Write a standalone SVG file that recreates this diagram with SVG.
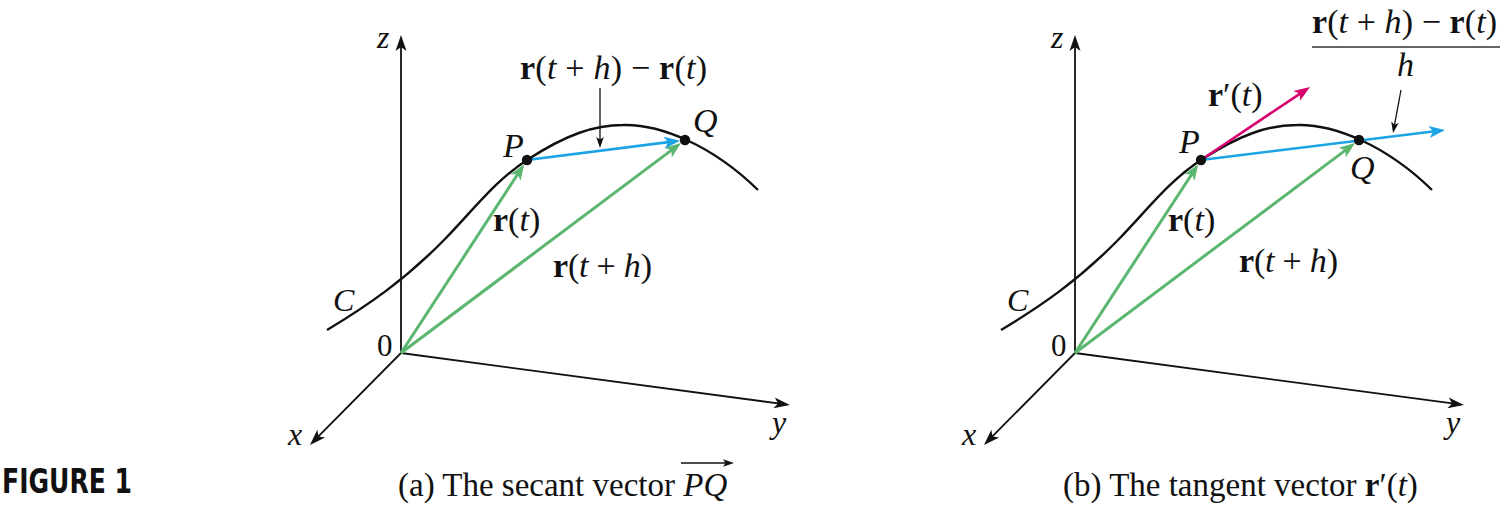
<svg xmlns="http://www.w3.org/2000/svg" width="1500" height="511" viewBox="0 0 1500 511">
<style>
  text { font-family: "Liberation Serif", "Times New Roman", serif; fill: #111; }
  .m { font-size: 34px; }
  .lb { font-size: 32px; font-style: italic; }
  .num { font-size: 31px; }
  .cap { font-size: 33px; }
  .b { font-weight: bold; font-style: normal; }
  .i { font-style: italic; }
  .fig { font-family: "Liberation Sans Narrow", "DejaVu Sans Condensed", "Liberation Sans", sans-serif; font-weight: bold; font-size: 33px; }
  .axis { stroke: #111; stroke-width: 1.8; fill: none; }
  .curve { stroke: #111; stroke-width: 2.4; fill: none; }
  .green { stroke: #5BB66F; stroke-width: 3; fill: none; }
  .blue { stroke: #1BA3E4; stroke-width: 2.6; fill: none; }
  .mag { stroke: #D6006E; stroke-width: 2.6; fill: none; }
  .thin { stroke: #111; stroke-width: 1.3; fill: none; }
  .dot { fill: #111; }
</style>
<defs>
  <marker id="ahAxis" markerUnits="userSpaceOnUse" viewBox="-12 -8 20 16" markerWidth="20" markerHeight="16" refX="0" refY="0" orient="auto">
    <path d="M6,0 L-10,-5.5 L-6,0 L-10,5.5 Z" fill="#111"/>
  </marker>
  <marker id="ahGreen" markerUnits="userSpaceOnUse" viewBox="-12 -8 20 16" markerWidth="20" markerHeight="16" refX="0" refY="0" orient="auto">
    <path d="M6,0 L-10,-6 L-6,0 L-10,6 Z" fill="#5BB66F"/>
  </marker>
  <marker id="ahBlue" markerUnits="userSpaceOnUse" viewBox="-12 -8 20 16" markerWidth="20" markerHeight="16" refX="0" refY="0" orient="auto">
    <path d="M6,0 L-10,-6 L-6,0 L-10,6 Z" fill="#1BA3E4"/>
  </marker>
  <marker id="ahMag" markerUnits="userSpaceOnUse" viewBox="-12 -8 20 16" markerWidth="20" markerHeight="16" refX="0" refY="0" orient="auto">
    <path d="M6,0 L-10,-6 L-6,0 L-10,6 Z" fill="#D6006E"/>
  </marker>
  <marker id="ahSmall" markerUnits="userSpaceOnUse" viewBox="-10 -5 14 10" markerWidth="14" markerHeight="10" refX="0" refY="0" orient="auto">
    <path d="M3,0 L-8,-3.8 L-5.5,0 L-8,3.8 Z" fill="#111"/>
  </marker>
  <g id="panel">
    <path class="axis" d="M401,353 L401,41" marker-end="url(#ahAxis)"/>
    <path class="axis" d="M401,353 L784,404.2" marker-end="url(#ahAxis)"/>
    <path class="axis" d="M401,353 L314.2,440.7" marker-end="url(#ahAxis)"/>
    <path class="curve" d="M327,330 C367,306 405,280 445,239 C475,208 495,181 527,160 C567,134 595,125 623,125 C660,124 712,145 758,190"/>
    <path class="green" d="M401,353 L521,169.2" marker-end="url(#ahGreen)"/>
    <path class="green" d="M401,353 L676.2,146.6" marker-end="url(#ahGreen)"/>
  </g>
</defs>

<g id="figure-label">
  <text class="fig" x="2" y="493" textLength="130" lengthAdjust="spacingAndGlyphs">FIGURE 1</text>
</g>

<!-- Panel (a) -->
<g id="panel-a">
  <g id="a-connectors">
    <use href="#panel"/>
    <path class="blue" d="M527,160 L674.1,141.4" marker-end="url(#ahBlue)"/>
    <path class="thin" d="M600,88 L600,145" marker-end="url(#ahSmall)"/>
  </g>
  <g id="a-P"><circle class="dot" cx="527" cy="160" r="5.2"/><text class="m i" x="503" y="157">P</text></g>
  <g id="a-Q"><circle class="dot" cx="685" cy="140" r="5.2"/><text class="m i" x="693" y="132">Q</text></g>
  <g id="a-labels">
    <text class="lb" x="377" y="48">z</text>
    <text class="lb" x="772" y="433">y</text>
    <text class="lb" x="288" y="445">x</text>
    <text class="num" x="377" y="356">0</text>
    <text class="lb" x="333" y="311">C</text>
    <text class="m" x="520" y="79" textLength="187" lengthAdjust="spacing"><tspan class="b">r</tspan>(<tspan class="i">t</tspan> + <tspan class="i">h</tspan>) − <tspan class="b">r</tspan>(<tspan class="i">t</tspan>)</text>
    <text class="m" x="493" y="231"><tspan class="b">r</tspan>(<tspan class="i">t</tspan>)</text>
    <text class="m" x="553" y="277" textLength="99" lengthAdjust="spacing"><tspan class="b">r</tspan>(<tspan class="i">t</tspan> + <tspan class="i">h</tspan>)</text>
  </g>
  <g id="a-caption">
    <text class="cap" x="398" y="496">(a) The secant vector <tspan class="i">PQ</tspan></text>
    <path class="thin" d="M681,463 L731,463" marker-end="url(#ahSmall)"/>
  </g>
</g>

<!-- Panel (b) -->
<g id="panel-b">
  <g id="b-connectors">
    <use href="#panel" transform="translate(674,0)"/>
    <path class="mag" d="M1201,160 L1305,90.3" marker-end="url(#ahMag)"/>
    <path class="blue" d="M1201,160 L1439,130.7" marker-end="url(#ahBlue)"/>
    <path class="thin" d="M1401,90 L1393.55,130.05" marker-end="url(#ahSmall)"/>
  </g>
  <g id="b-P"><circle class="dot" cx="1201" cy="160" r="5.2"/><text class="m i" x="1179" y="153">P</text></g>
  <g id="b-Q"><circle class="dot" cx="1359" cy="140" r="5.2"/><text class="m i" x="1350" y="179">Q</text></g>
  <g id="b-labels">
    <text class="lb" x="1051" y="48">z</text>
    <text class="lb" x="1446" y="433">y</text>
    <text class="lb" x="962" y="445">x</text>
    <text class="num" x="1051" y="356">0</text>
    <text class="lb" x="1007" y="311">C</text>
    <text class="m" x="1208" y="106"><tspan class="b">r</tspan>′(<tspan class="i">t</tspan>)</text>
    <text class="m" x="1168" y="231"><tspan class="b">r</tspan>(<tspan class="i">t</tspan>)</text>
    <text class="m" x="1239" y="272" textLength="99" lengthAdjust="spacing"><tspan class="b">r</tspan>(<tspan class="i">t</tspan> + <tspan class="i">h</tspan>)</text>
  </g>
  <g id="b-fraction">
    <text class="m" x="1312" y="33" textLength="185" lengthAdjust="spacing"><tspan class="b">r</tspan>(<tspan class="i">t</tspan> + <tspan class="i">h</tspan>) − <tspan class="b">r</tspan>(<tspan class="i">t</tspan>)</text>
    <path d="M1312,47 L1500,47" stroke="#333" stroke-width="1.6"/>
    <text class="m i" x="1397" y="76">h</text>
  </g>
  <g id="b-caption">
    <text class="cap" x="1063" y="496">(b) The tangent vector <tspan class="b">r</tspan>′(<tspan class="i">t</tspan>)</text>
  </g>
</g>
</svg>
